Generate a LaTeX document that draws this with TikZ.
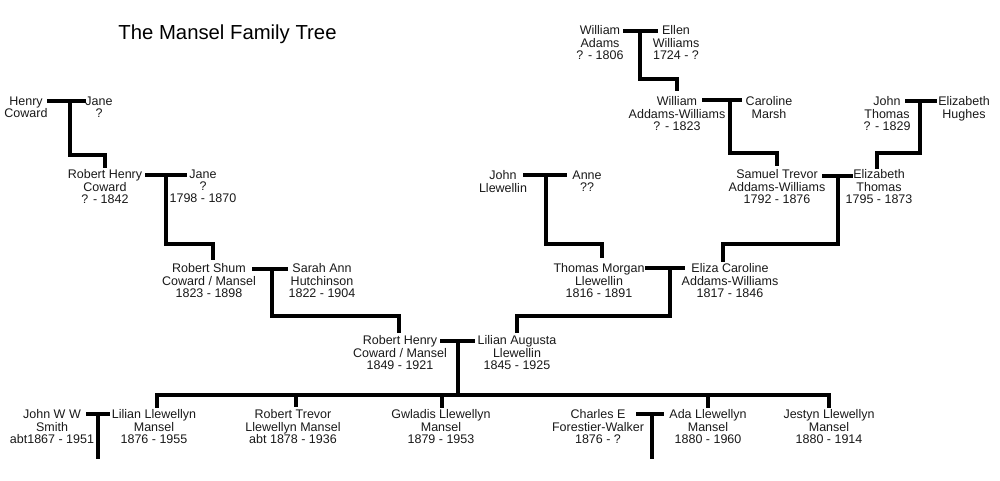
\documentclass[tikz,border=0pt]{standalone}
\usepackage{fontspec}
\setmainfont{Liberation Sans}
\begin{document}
\begin{tikzpicture}[x=1pt,y=-1pt,
  person/.style={align=center,inner sep=0pt,anchor=north,text=black!90,
    font=\fontsize{12.5}{12.3}\selectfont},
  titletext/.style={anchor=base,inner sep=0pt,text=black,font=\fontsize{20.3}{24}\selectfont},
  link/.style={line width=3.2pt,line join=miter,line cap=butt}]
\useasboundingbox (0,0) rectangle (1000,481);

\node[titletext] (title) at (227.5,40) {The Mansel Family Tree};

% ---- people ----
\node[person] (hc)    at (26,96.5)   {Henry\\Coward};
\node[person] (jane1) at (99,96.5)   {Jane\\?};
\node[person] (rh)    at (105,169.5) {Robert Henry\\Coward\\? - 1842};
\node[person] (jane2) at (203,169.5) {Jane\\?\\1798 - 1870};
\node[person] (rs)    at (209,263.5) {Robert Shum\\Coward / Mansel\\1823 - 1898};
\node[person] (sa)    at (322,263.5) {Sarah Ann\\Hutchinson\\1822 - 1904};
\node[person] (rhm)   at (400,335.5) {Robert Henry\\Coward / Mansel\\1849 - 1921};
\node[person] (la)    at (517,335.5) {Lilian Augusta\\Llewellin\\1845 - 1925};
\node[person] (jl)    at (503,170.5) {John\\Llewellin};
\node[person] (an)    at (587,170.5) {Anne\\??};
\node[person] (tm)    at (599,263.5) {Thomas Morgan\\Llewellin\\1816 - 1891};
\node[person] (ec)    at (730,263.5) {Eliza Caroline\\Addams-Williams\\1817 - 1846};
\node[person] (wa)    at (600,25.5)  {William\\Adams\\? - 1806};
\node[person] (ew)    at (676,25.5)  {Ellen\\Williams\\1724 - ?};
\node[person] (waw)   at (677,96.5)  {William\\Addams-Williams\\? - 1823};
\node[person] (cm)    at (769,96.5)  {Caroline\\Marsh};
\node[person] (jt)    at (887,96.5)  {John\\Thomas\\? - 1829};
\node[person] (eh)    at (964,96.5)  {Elizabeth\\Hughes};
\node[person] (st)    at (777,169.5) {Samuel Trevor\\Addams-Williams\\1792 - 1876};
\node[person] (et)    at (879,169.5) {Elizabeth\\Thomas\\1795 - 1873};
% children
\node[person] (js)    at (52,409.5)  {John W W\\Smith\\abt1867 - 1951};
\node[person] (ll)    at (154,409.5) {Lilian Llewellyn\\Mansel\\1876 - 1955};
\node[person] (rt)    at (293,409.5) {Robert Trevor\\Llewellyn Mansel\\abt 1878 - 1936};
\node[person] (gl)    at (441,409.5) {Gwladis Llewellyn\\Mansel\\1879 - 1953};
\node[person] (cf)    at (598,409.5) {Charles E\\Forestier-Walker\\1876 - ?};
\node[person] (al)    at (708,409.5) {Ada Llewellyn\\Mansel\\1880 - 1960};
\node[person] (jy)    at (829,409.5) {Jestyn Llewellyn\\Mansel\\1880 - 1914};

% ---- marriage points ----
\coordinate (m1a) at (47,101);  \coordinate (m1b) at (86,101);  \coordinate (m1) at (70,101);
\coordinate (m2a) at (145,175); \coordinate (m2b) at (187,175); \coordinate (m2) at (166,175);
\coordinate (m3a) at (252,269); \coordinate (m3b) at (288,269); \coordinate (m3) at (272,269);
\coordinate (m4a) at (440,341); \coordinate (m4b) at (475,341); \coordinate (m4) at (458,341);
\coordinate (m5a) at (86,414);  \coordinate (m5b) at (110,414); \coordinate (m5) at (98,414);
\coordinate (m6a) at (636,414); \coordinate (m6b) at (664,414); \coordinate (m6) at (652,414);
\coordinate (m7a) at (623,31);  \coordinate (m7b) at (658,31);  \coordinate (m7) at (640,31);
\coordinate (m8a) at (702,100); \coordinate (m8b) at (742,100); \coordinate (m8) at (730,100);
\coordinate (m9a) at (905,101); \coordinate (m9b) at (937,101); \coordinate (m9) at (920,101);
\coordinate (mAa) at (822,176); \coordinate (mAb) at (853,176); \coordinate (mA) at (838,176);
\coordinate (mBa) at (523,175); \coordinate (mBb) at (567,175); \coordinate (mB) at (546,175);
\coordinate (mCa) at (645,268); \coordinate (mCb) at (685,268); \coordinate (mC) at (670,268);
\coordinate (bar) at (458,395);
\coordinate (s5) at (98,459);
\coordinate (s6) at (652,459);

% ---- couple lines ----
\foreach \m in {m1,m2,m3,m4,m5,m6,m7,m8,m9,mA,mB,mC}
  \draw[link] (\m a) -- (\m b);

% ---- descent lines ----
\draw[link] (m1) -- (70,155)  -| ([yshift=1.5pt]rh.north);
\draw[link] (m2) -- (166,244) -| ([xshift=4pt,yshift=4pt]rs.north);
\draw[link] (m3) -- (272,316) -| ([xshift=-1pt,yshift=2.5pt]rhm.north);
\draw[link] (mC) -- (670,316) -| ([yshift=2.5pt]la.north);
\draw[link] (mB) -- (546,244) -| ([xshift=3pt,yshift=5.5pt]tm.north);
\draw[link] (mA) -- (838,244) -| ([xshift=-7pt,yshift=1.5pt]ec.north);
\draw[link] (m7) -- (640,79)  -| ([yshift=5.5pt]waw.north);
\draw[link] (m8) -- (730,153) -| ([yshift=3.5pt]st.north);
\draw[link] (m9) -- (920,153) -| ([xshift=-2pt,yshift=0.5pt]et.north);

% children
\draw[link] (m4) -- (bar);
\draw[link] ([xshift=3pt,yshift=2pt]ll.north) |- (bar -| jy.north) -- ([yshift=2pt]jy.north);
\draw[link] ([xshift=3pt]bar -| rt.north) -- ([xshift=3pt,yshift=3pt]rt.north);
\draw[link] ([xshift=1pt]bar -| gl.north) -- ([xshift=1pt,yshift=2pt]gl.north);
\draw[link] (bar -| al.north) -- ([yshift=2pt]al.north);
\draw[link] (m5) -- (s5);
\draw[link] (m6) -- (s6);
\end{tikzpicture}
\end{document}
